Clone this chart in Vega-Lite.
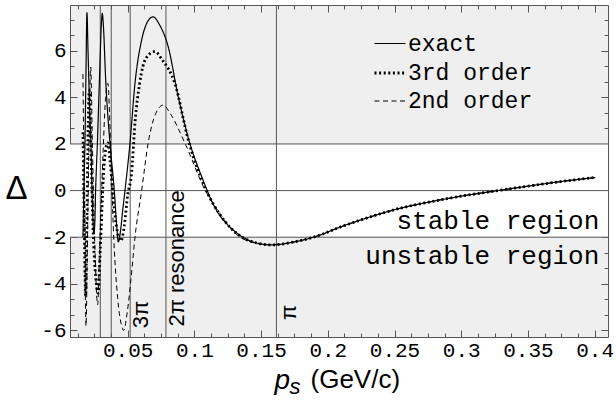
{
  "$schema": "https://vega.github.io/schema/vega-lite/v6.json",
  "width": 538,
  "height": 332,
  "autosize": {"type": "none"},
  "padding": {"left": 70, "top": 5, "right": 8, "bottom": 68},
  "background": "white",
  "config": {
    "view": {"stroke": "#555", "strokeWidth": 1, "fill": "#efefef"},
    "font": "Liberation Sans",
    "axis": {"grid": false, "domain": false, "tickColor": "#555", "labelColor": "black", "labelFont": "Liberation Mono", "labelFontSize": 21, "labelOverlap": false, "labelFlush": false, "titleColor": "black", "titleFontWeight": "normal"}
  },
  "datasets": {
    "curves": [
      {"x":0.0165,"y":5.0,"s":"2nd order"},{"x":0.0175,"y":0.0,"s":"2nd order"},{"x":0.0188,"y":-5.8,"s":"2nd order"},{"x":0.0197,"y":-3.0,"s":"2nd order"},{"x":0.021,"y":2.0,"s":"2nd order"},{"x":0.0223,"y":5.3,"s":"2nd order"},{"x":0.0236,"y":2.0,"s":"2nd order"},{"x":0.0255,"y":-2.5,"s":"2nd order"},{"x":0.0275,"y":-4.9,"s":"2nd order"},{"x":0.029,"y":-2.5,"s":"2nd order"},{"x":0.0315,"y":1.5,"s":"2nd order"},{"x":0.0335,"y":4.0,"s":"2nd order"},{"x":0.0352,"y":4.6,"s":"2nd order"},{"x":0.0372,"y":2.0,"s":"2nd order"},{"x":0.0392,"y":-1.5,"s":"2nd order"},{"x":0.0425,"y":-4.6,"s":"2nd order"},{"x":0.0455,"y":-5.8,"s":"2nd order"},{"x":0.047,"y":-6.0,"s":"2nd order"},{"x":0.0495,"y":-5.3,"s":"2nd order"},{"x":0.0525,"y":-3.8,"s":"2nd order"},{"x":0.0555,"y":-2.0,"s":"2nd order"},{"x":0.0605,"y":0.0,"s":"2nd order"},{"x":0.0654,"y":2.05,"s":"2nd order"},{"x":0.071,"y":3.3,"s":"2nd order"},{"x":0.0767,"y":3.67,"s":"2nd order"},{"x":0.082,"y":3.3,"s":"2nd order"},{"x":0.0929,"y":2.04,"s":"2nd order"},{"x":0.1079,"y":0.04,"s":"2nd order"},{"x":0.12,"y":-1.05,"s":"2nd order"},{"x":0.13,"y":-1.8,"s":"2nd order"},{"x":0.142,"y":-2.2,"s":"2nd order"},{"x":0.155,"y":-2.32,"s":"2nd order"},{"x":0.175,"y":-2.2,"s":"2nd order"},{"x":0.1915,"y":-1.96,"s":"2nd order"},{"x":0.21,"y":-1.55,"s":"2nd order"},{"x":0.229,"y":-1.18,"s":"2nd order"},{"x":0.25,"y":-0.82,"s":"2nd order"},{"x":0.2787,"y":-0.46,"s":"2nd order"},{"x":0.3,"y":-0.24,"s":"2nd order"},{"x":0.3287,"y":0.01,"s":"2nd order"},{"x":0.35,"y":0.19,"s":"2nd order"},{"x":0.366,"y":0.32,"s":"2nd order"},{"x":0.3835,"y":0.45,"s":"2nd order"},{"x":0.4005,"y":0.56,"s":"2nd order"},

      {"x":0.0165,"y":-2.0,"s":"exact"},{"x":0.0172,"y":0.0,"s":"exact"},{"x":0.018,"y":2.0,"s":"exact"},{"x":0.0188,"y":5.2,"s":"exact"},{"x":0.0195,"y":7.63,"s":"exact"},{"x":0.0203,"y":6.0,"s":"exact"},{"x":0.0215,"y":3.6,"s":"exact"},{"x":0.0225,"y":2.0,"s":"exact"},{"x":0.0233,"y":0.0,"s":"exact"},{"x":0.024,"y":-1.3,"s":"exact"},{"x":0.0247,"y":-1.85,"s":"exact"},{"x":0.0254,"y":-1.4,"s":"exact"},{"x":0.026,"y":0.0,"s":"exact"},{"x":0.0273,"y":2.0,"s":"exact"},{"x":0.029,"y":5.0,"s":"exact"},{"x":0.0302,"y":7.0,"s":"exact"},{"x":0.031,"y":7.6,"s":"exact"},{"x":0.0318,"y":7.1,"s":"exact"},{"x":0.0335,"y":4.8,"s":"exact"},{"x":0.0368,"y":2.0,"s":"exact"},{"x":0.04,"y":0.0,"s":"exact"},{"x":0.0418,"y":-1.5,"s":"exact"},{"x":0.043,"y":-2.2,"s":"exact"},{"x":0.0445,"y":-1.8,"s":"exact"},{"x":0.0462,"y":-0.9,"s":"exact"},{"x":0.048,"y":0.0,"s":"exact"},{"x":0.0517,"y":2.0,"s":"exact"},{"x":0.0555,"y":4.6,"s":"exact"},{"x":0.0605,"y":6.46,"s":"exact"},{"x":0.065,"y":7.25,"s":"exact"},{"x":0.069,"y":7.45,"s":"exact"},{"x":0.074,"y":7.1,"s":"exact"},{"x":0.0804,"y":6.17,"s":"exact"},{"x":0.0879,"y":4.03,"s":"exact"},{"x":0.0966,"y":2.03,"s":"exact"},{"x":0.1054,"y":0.61,"s":"exact"},{"x":0.115,"y":-0.68,"s":"exact"},{"x":0.1303,"y":-1.75,"s":"exact"},{"x":0.1428,"y":-2.18,"s":"exact"},{"x":0.158,"y":-2.33,"s":"exact"},{"x":0.175,"y":-2.2,"s":"exact"},{"x":0.1915,"y":-1.96,"s":"exact"},{"x":0.21,"y":-1.55,"s":"exact"},{"x":0.229,"y":-1.18,"s":"exact"},{"x":0.25,"y":-0.82,"s":"exact"},{"x":0.2787,"y":-0.46,"s":"exact"},{"x":0.3,"y":-0.24,"s":"exact"},{"x":0.3287,"y":0.01,"s":"exact"},{"x":0.35,"y":0.19,"s":"exact"},{"x":0.366,"y":0.32,"s":"exact"},{"x":0.3835,"y":0.45,"s":"exact"},{"x":0.4005,"y":0.56,"s":"exact"},

      {"x":0.0165,"y":2.5,"s":"3rd order"},{"x":0.0175,"y":-1.5,"s":"3rd order"},{"x":0.0185,"y":-4.5,"s":"3rd order"},{"x":0.0195,"y":-1.0,"s":"3rd order"},{"x":0.0205,"y":3.0,"s":"3rd order"},{"x":0.0213,"y":4.3,"s":"3rd order"},{"x":0.0222,"y":2.5,"s":"3rd order"},{"x":0.024,"y":-1.5,"s":"3rd order"},{"x":0.0262,"y":-3.8,"s":"3rd order"},{"x":0.0278,"y":-4.4,"s":"3rd order"},{"x":0.0295,"y":-2.5,"s":"3rd order"},{"x":0.032,"y":0.8,"s":"3rd order"},{"x":0.034,"y":1.9,"s":"3rd order"},{"x":0.0353,"y":2.05,"s":"3rd order"},{"x":0.0368,"y":1.3,"s":"3rd order"},{"x":0.04,"y":-0.8,"s":"3rd order"},{"x":0.043,"y":-1.95,"s":"3rd order"},{"x":0.045,"y":-2.15,"s":"3rd order"},{"x":0.0475,"y":-1.5,"s":"3rd order"},{"x":0.05,"y":-0.2,"s":"3rd order"},{"x":0.053,"y":0.76,"s":"3rd order"},{"x":0.0555,"y":2.9,"s":"3rd order"},{"x":0.059,"y":4.6,"s":"3rd order"},{"x":0.064,"y":5.7,"s":"3rd order"},{"x":0.0704,"y":5.96,"s":"3rd order"},{"x":0.076,"y":5.6,"s":"3rd order"},{"x":0.0854,"y":4.6,"s":"3rd order"},{"x":0.0954,"y":2.18,"s":"3rd order"},{"x":0.109,"y":0.0,"s":"3rd order"},{"x":0.12,"y":-1.1,"s":"3rd order"},{"x":0.132,"y":-1.85,"s":"3rd order"},{"x":0.145,"y":-2.22,"s":"3rd order"},{"x":0.158,"y":-2.33,"s":"3rd order"},{"x":0.175,"y":-2.2,"s":"3rd order"},{"x":0.1915,"y":-1.96,"s":"3rd order"},{"x":0.21,"y":-1.55,"s":"3rd order"},{"x":0.229,"y":-1.18,"s":"3rd order"},{"x":0.25,"y":-0.82,"s":"3rd order"},{"x":0.2787,"y":-0.46,"s":"3rd order"},{"x":0.3,"y":-0.24,"s":"3rd order"},{"x":0.3287,"y":0.01,"s":"3rd order"},{"x":0.35,"y":0.19,"s":"3rd order"},{"x":0.366,"y":0.32,"s":"3rd order"},{"x":0.3835,"y":0.45,"s":"3rd order"},{"x":0.4005,"y":0.56,"s":"3rd order"}
    ]
  },
  "resolve": {"axis": {"x": "independent", "y": "independent"}},
  "layer": [
    {
      "data": {"values": [{"lo": -2, "hi": 2}]},
      "mark": {"type": "rect", "fill": "white"},
      "encoding": {
        "y": {"field": "lo", "type": "quantitative", "scale": {"domain": [-6.28, 7.96], "nice": false, "zero": false}, "axis": null},
        "y2": {"field": "hi"}
      }
    },
    {
      "data": {"values": [{"h": -2}, {"h": 0}, {"h": 2}]},
      "mark": {"type": "rule", "color": "#555", "strokeWidth": 1},
      "encoding": {
        "y": {"field": "h", "type": "quantitative", "scale": {"domain": [-6.28, 7.96], "nice": false, "zero": false},
          "axis": {"orient": "left", "values": [-6,-5.3333,-4.6667,-4,-3.3333,-2.6667,-2,-1.3333,-0.6667,0,0.6667,1.3333,2,2.6667,3.3333,4,4.6667,5.3333,6,6.6667,7.3333],
            "labelExpr": "abs(datum.value/2 - round(datum.value/2)) < 0.01 ? (datum.value < 0 ? '-' + abs(round(datum.value)) : '' + round(datum.value)) : ''",
            "tickSize": {"condition": {"test": "abs(datum.value/2 - round(datum.value/2)) < 0.01", "value": -7}, "value": -4},
            "labelPadding": 11,
            "title": "Δ", "titleAngle": 0, "titleFont": "Liberation Sans", "titleFontSize": 33, "titleX": -54, "titleY": 183, "titleAlign": "center", "titleBaseline": "middle"}}
      }
    },
    {
      "data": {"values": [{"v": 0.0295}, {"v": 0.0377}, {"v": 0.0519}, {"v": 0.0787}, {"v": 0.1615}]},
      "mark": {"type": "rule", "color": "#555", "strokeWidth": 1},
      "encoding": {
        "x": {"field": "v", "type": "quantitative", "scale": {"domain": [0.0068, 0.41], "nice": false, "zero": false},
          "axis": {"orient": "bottom", "values": [0.0125,0.025,0.0375,0.05,0.0625,0.075,0.0875,0.1,0.1125,0.125,0.1375,0.15,0.1625,0.175,0.1875,0.2,0.2125,0.225,0.2375,0.25,0.2625,0.275,0.2875,0.3,0.3125,0.325,0.3375,0.35,0.3625,0.375,0.3875,0.4],
            "labelExpr": "abs(datum.value*20 - round(datum.value*20)) < 0.01 ? format(datum.value, '~g') : ''",
            "tickSize": {"condition": {"test": "abs(datum.value*20 - round(datum.value*20)) < 0.01", "value": -7}, "value": -4},
            "labelPadding": 9,
            "title": "(GeV/c)", "titleFont": "Liberation Sans", "titleFontSize": 26, "titleX": 240, "titleY": 50, "titleAlign": "left", "titleBaseline": "alphabetic", "titleAngle": 0}}
      }
    },
    {
      "data": {"name": "curves"},
      "mark": {"type": "line", "color": "black", "interpolate": "monotone", "strokeCap": "butt"},
      "encoding": {
        "x": {"field": "x", "type": "quantitative", "scale": {"domain": [0.0068, 0.41], "nice": false, "zero": false},
          "axis": {"orient": "top", "labels": false, "values": [0.0125,0.025,0.0375,0.05,0.0625,0.075,0.0875,0.1,0.1125,0.125,0.1375,0.15,0.1625,0.175,0.1875,0.2,0.2125,0.225,0.2375,0.25,0.2625,0.275,0.2875,0.3,0.3125,0.325,0.3375,0.35,0.3625,0.375,0.3875,0.4],
            "tickSize": {"condition": {"test": "abs(datum.value*20 - round(datum.value*20)) < 0.01", "value": -7}, "value": -4},
            "title": "p", "titleFont": "Liberation Sans", "titleFontStyle": "italic", "titleFontSize": 28, "titleX": 204, "titleY": 383, "titleAlign": "left", "titleBaseline": "alphabetic", "titleAngle": 0}},
        "y": {"field": "y", "type": "quantitative", "scale": {"domain": [-6.28, 7.96], "nice": false, "zero": false},
          "axis": {"orient": "right", "labels": false, "values": [-6,-5.3333,-4.6667,-4,-3.3333,-2.6667,-2,-1.3333,-0.6667,0,0.6667,1.3333,2,2.6667,3.3333,4,4.6667,5.3333,6,6.6667,7.3333],
            "tickSize": {"condition": {"test": "abs(datum.value/2 - round(datum.value/2)) < 0.01", "value": -7}, "value": -4},
            "title": "s", "titleFont": "Liberation Sans", "titleFontStyle": "italic", "titleFontSize": 22, "titleX": -319, "titleY": 388, "titleAlign": "left", "titleBaseline": "alphabetic", "titleAngle": 0}},
        "strokeDash": {"field": "s", "type": "nominal", "scale": {"type": "ordinal", "domain": ["exact", "3rd order", "2nd order"], "range": [[1, 0], [2, 2.6], [5, 3.5]]},
          "legend": {"orient": "none", "legendX": 303, "legendY": 22, "title": null, "labelFont": "Liberation Mono", "labelFontSize": 23, "labelColor": "black", "symbolSize": 961, "symbolType": "stroke", "symbolStrokeColor": "black", "labelOffset": 1, "rowPadding": -6, "padding": 0}},
        "strokeWidth": {"field": "s", "type": "nominal", "scale": {"type": "ordinal", "domain": ["exact", "3rd order", "2nd order"], "range": [1.2, 2.8, 1]},
          "legend": {"orient": "none", "legendX": 303, "legendY": 22, "title": null, "labelFont": "Liberation Mono", "labelFontSize": 23, "labelColor": "black", "symbolSize": 961, "symbolType": "stroke", "symbolStrokeColor": "black", "labelOffset": 1, "rowPadding": -6, "padding": 0}},
        "order": {"field": "x", "type": "quantitative"}
      }
    },
    {
      "data": {"values": [
        {"x": 0.0798, "y": -5.83, "t": "2π resonance"},
        {"x": 0.0528, "y": -5.9, "t": "3π"},
        {"x": 0.1632, "y": -5.55, "t": "π"}
      ]},
      "mark": {"type": "text", "angle": 270, "align": "left", "baseline": "top", "font": "Liberation Sans", "fontSize": 22, "color": "black"},
      "encoding": {
        "x": {"field": "x", "type": "quantitative", "axis": null},
        "y": {"field": "y", "type": "quantitative", "axis": null},
        "text": {"field": "t"}
      }
    },
    {
      "data": {"values": [
        {"x": 0.4035, "y": -1.65, "t": "stable region"},
        {"x": 0.4035, "y": -3.17, "t": "unstable region"}
      ]},
      "mark": {"type": "text", "align": "right", "baseline": "alphabetic", "font": "Liberation Mono", "fontSize": 26, "color": "black"},
      "encoding": {
        "x": {"field": "x", "type": "quantitative", "axis": null},
        "y": {"field": "y", "type": "quantitative", "axis": null},
        "text": {"field": "t"}
      }
    }
  ]
}
